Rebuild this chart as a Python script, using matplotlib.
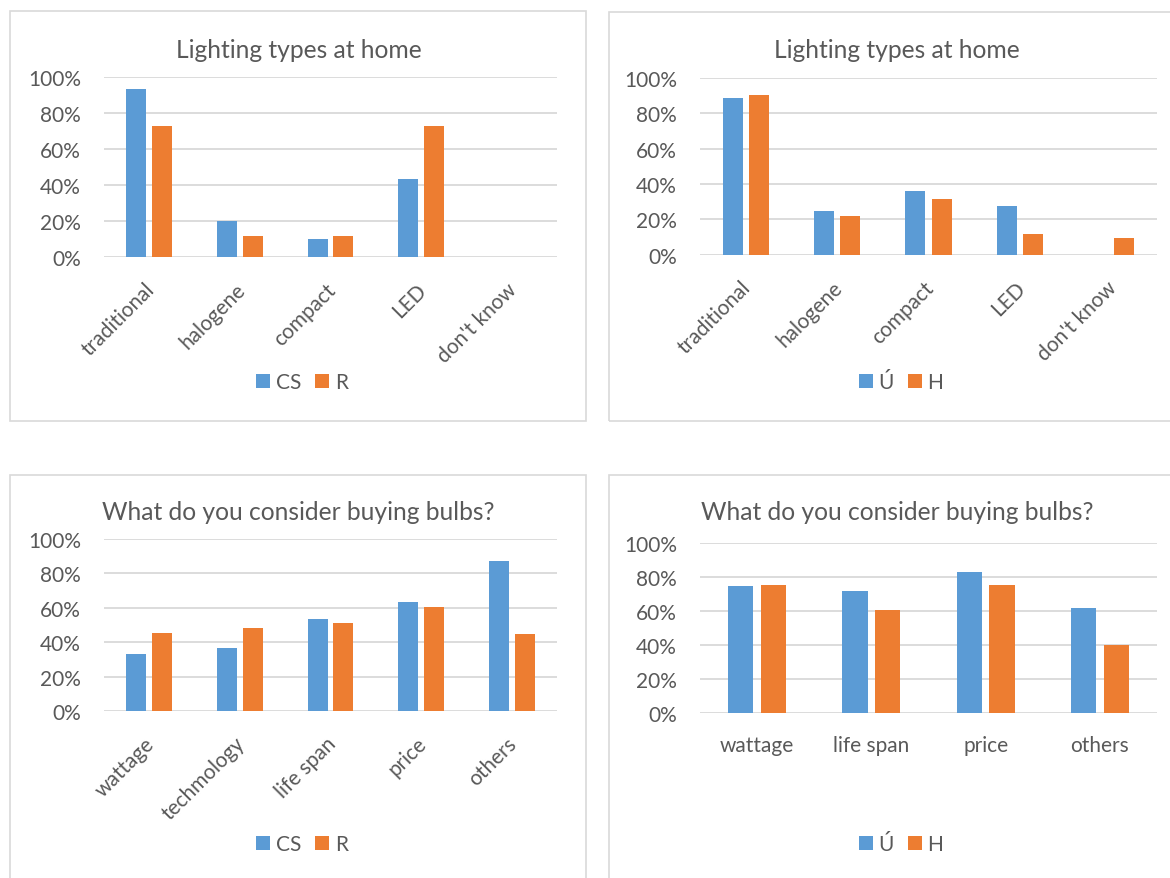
import matplotlib
matplotlib.use('Agg')
import matplotlib.pyplot as plt
import matplotlib.transforms as mtransforms
import numpy as np
from matplotlib.patches import Rectangle
from matplotlib.ticker import PercentFormatter

plt.rcParams['font.family'] = ['Lato', 'DejaVu Sans']

#####################################################################
# data:
lighting_types = ['traditional', 'halogene', 'compact', 'LED', "don't know"]
lighting_cs = [0.933, 0.196, 0.096, 0.430, 0.0]
lighting_r = [0.724, 0.117, 0.117, 0.724, 0.0]
lighting_u = [0.889, 0.249, 0.358, 0.275, 0.0]
lighting_h = [0.902, 0.217, 0.317, 0.119, 0.094]

buying_cats_left = ['wattage', 'techmology', 'life span', 'price', 'others']
buying_cs = [0.331, 0.364, 0.533, 0.632, 0.870]
buying_r = [0.452, 0.483, 0.514, 0.605, 0.448]

buying_cats_right = ['wattage', 'life span', 'price', 'others']
buying_u = [0.748, 0.720, 0.833, 0.618]
buying_h = [0.754, 0.608, 0.754, 0.400]

#####################################################################
# style:
W, H = 1170, 879
blue = '#5b9bd5'
orange = '#ed7d31'
grey_txt = '#595959'
grid_col = '#d9d9d9'
fs_tick = 15
fs_title = 17.7

fig = plt.figure(figsize=(W / 100, H / 100), dpi=100)


def px_axes(x0, y0, x1, y1):
    # pixel box (top-left origin) -> figure axes
    return fig.add_axes([x0 / W, 1 - y1 / H, (x1 - x0) / W, (y1 - y0) / H])


def px_box(x0, y0, x1, y1):
    fig.patches.append(Rectangle((x0 / W, 1 - y1 / H), (x1 - x0) / W, (y1 - y0) / H,
                                 transform=fig.transFigure, fill=False,
                                 edgecolor=grid_col, linewidth=1.2, zorder=0))


def draw_panel(box, axbox, title, title_xy, cats, s1, s2, labels, legend_xy, rotate):
    px_box(*box)
    ax = px_axes(*axbox)
    x = np.arange(len(cats))
    ax.bar(x - 0.143, s1, width=0.22, color=blue, label=labels[0], zorder=3)
    ax.bar(x + 0.143, s2, width=0.22, color=orange, label=labels[1], zorder=3)
    ax.set_xlim(-0.5, len(cats) - 0.5)
    ax.set_ylim(0, 1)
    ax.set_yticks(np.arange(0, 1.01, 0.2))
    ax.yaxis.set_major_formatter(PercentFormatter(1.0, decimals=0))
    ax.grid(axis='y', color=grid_col, linewidth=1.3, zorder=0)
    ax.set_axisbelow(True)
    for sp in ax.spines.values():
        sp.set_visible(False)
    ax.tick_params(length=0, labelsize=fs_tick, labelcolor=grey_txt)
    ax.tick_params(axis='y', pad=16.5)
    ax.set_xticks(x)
    if rotate:
        ax.set_xticklabels(cats, rotation=45, ha='right', rotation_mode='anchor')
        ax.tick_params(axis='x', pad=16)
        shift = mtransforms.ScaledTranslation(-5 / 100, 0, fig.dpi_scale_trans)
        for lab in ax.get_xticklabels():
            lab.set_transform(lab.get_transform() + shift)
    else:
        ax.set_xticklabels(cats)
        ax.tick_params(axis='x', pad=16)
    fig.text(title_xy[0] / W, 1 - title_xy[1] / H, title, ha='center', va='center',
             fontsize=fs_title, color=grey_txt)
    fig.legend(*ax.get_legend_handles_labels(), loc='center',
               bbox_to_anchor=(legend_xy[0] / W, 1 - legend_xy[1] / H),
               ncol=2, frameon=False, fontsize=fs_tick, labelcolor=grey_txt,
               handlelength=0.68, handleheight=0.68, handletextpad=0.27,
               columnspacing=0.65)
    return ax


#####################################################################
# plot:
draw_panel((10, 12, 586, 422), (104, 77.7, 557, 257.7), 'Lighting types at home', (299, 50),
           lighting_types, lighting_cs, lighting_r, ('CS', 'R'), (302, 383), True)
draw_panel((609, 13, 1186, 422), (700, 79, 1157, 255.7), 'Lighting types at home', (897, 50),
           lighting_types, lighting_u, lighting_h, ('Ú', 'H'), (901, 383), True)
draw_panel((10, 476, 586, 900), (104, 540, 557, 712), 'What do you consider buying bulbs?', (298, 513),
           buying_cats_left, buying_cs, buying_r, ('CS', 'R'), (302, 845), True)
draw_panel((609, 476, 1186, 900), (700, 544.3, 1157, 713.7), 'What do you consider buying bulbs?', (897, 513),
           buying_cats_right, buying_u, buying_h, ('Ú', 'H'), (901, 845), False)

fig.savefig('out.png', dpi=100)
